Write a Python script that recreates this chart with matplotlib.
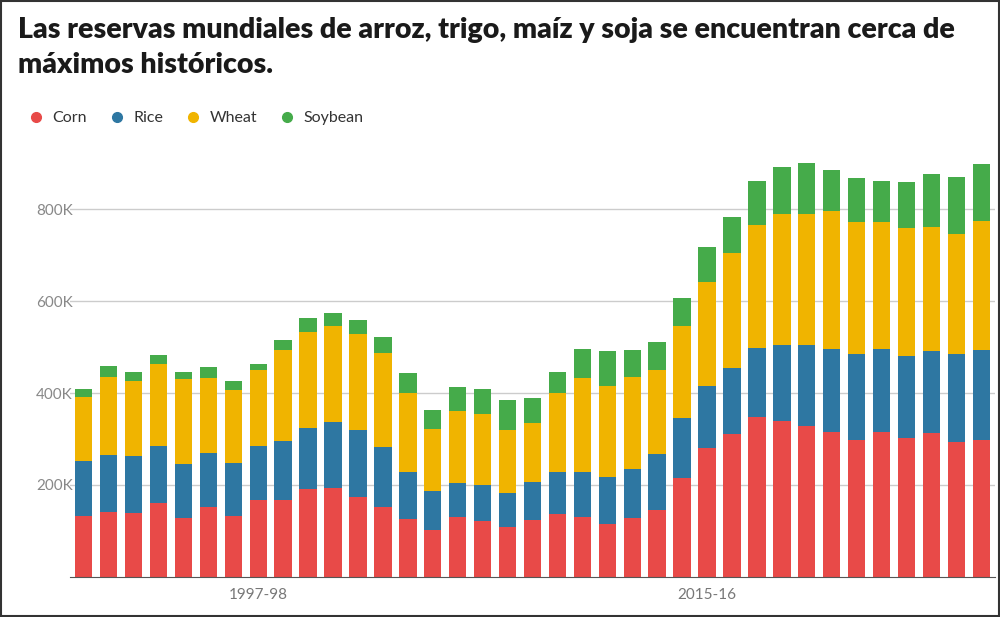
import matplotlib
matplotlib.use("Agg")
import matplotlib.pyplot as plt
from matplotlib.lines import Line2D

years = [f"{y}-{str(y+1)[-2:]}" for y in range(1990, 2027)]
corn = [133,141,139,161,128,152,133,167,167,191,193,174,152,126,102,130,122,109,124,137,130,115,128,146,215,280,311,348,339,328,315,298,315,302,313,293,298]
rice = [120,124,124,124,117,117,115,117,128,133,143,146,130,102,85,74,78,74,83,91,98,102,107,122,130,135,143,150,165,176,180,187,180,178,178,191,196]
wheat = [139,170,163,178,185,163,159,165,198,209,209,209,204,172,135,157,154,137,128,172,204,198,200,183,200,226,250,267,285,285,300,287,276,278,270,261,280]
soy = [17,24,20,20,15,24,20,15,22,30,30,30,35,43,41,52,54,65,54,46,63,76,59,59,61,76,78,96,102,111,91,96,91,100,115,124,124]
series = [("Corn", corn, "#e84a48"), ("Rice", rice, "#2e77a2"), ("Wheat", wheat, "#f0b400"), ("Soybean", soy, "#45ab4a")]
tick_labels = ["1997-98", "2015-16"]

plt.rcParams['font.family'] = ['Lato', 'DejaVu Sans']
fig = plt.figure(figsize=(10, 6.17), dpi=100)
ax = fig.add_axes([0.07, 0.065, 0.925, 0.675])
x = list(range(len(years)))
bottom = [0]*len(years)
for name, vals, col in series:
    ax.bar(x, vals, bottom=bottom, color=col, width=0.7, zorder=3)
    bottom = [b+v for b, v in zip(bottom, vals)]
ax.set_ylim(0, 906)
ax.set_xlim(-0.55, len(years)-0.45)
ax.set_yticks([200, 400, 600, 800])
ax.set_yticklabels(["200K", "400K", "600K", "800K"], color="#888888", fontsize=11)
ax.yaxis.grid(True, color="#cccccc", lw=1, zorder=0)
ax.tick_params(axis='y', length=0, pad=-2)
ax.set_xticks([years.index(t) for t in tick_labels])
ax.set_xticklabels(tick_labels, color="#777777", fontsize=11)
ax.tick_params(axis='x', length=0, pad=8)
for s in ["top", "right", "left"]:
    ax.spines[s].set_visible(False)
ax.spines["bottom"].set_color("#555555")
ax.spines["bottom"].set_zorder(4)

fig.text(0.018, 0.972, "Las reservas mundiales de arroz, trigo, maíz y soja se encuentran cerca de\nmáximos históricos.",
         fontsize=20.5, fontweight="heavy", va="top", ha="left", color="#1a1a1a", linespacing=1.4)
handles = [Line2D([0], [0], marker="o", ls="", color=c, markersize=7) for _, _, c in series]
fig.legend(handles, [n for n, _, _ in series], loc="upper left", bbox_to_anchor=(0.006, 0.843),
           ncol=4, frameon=False, fontsize=11.5, handletextpad=0.0, columnspacing=0.9,
           labelcolor="#333333")
fig.patches.append(plt.Rectangle((0.001, 0.001), 0.998, 0.998, transform=fig.transFigure,
                                 fill=False, ec="#333333", lw=1.5))
fig.savefig("out.png", dpi=100)
